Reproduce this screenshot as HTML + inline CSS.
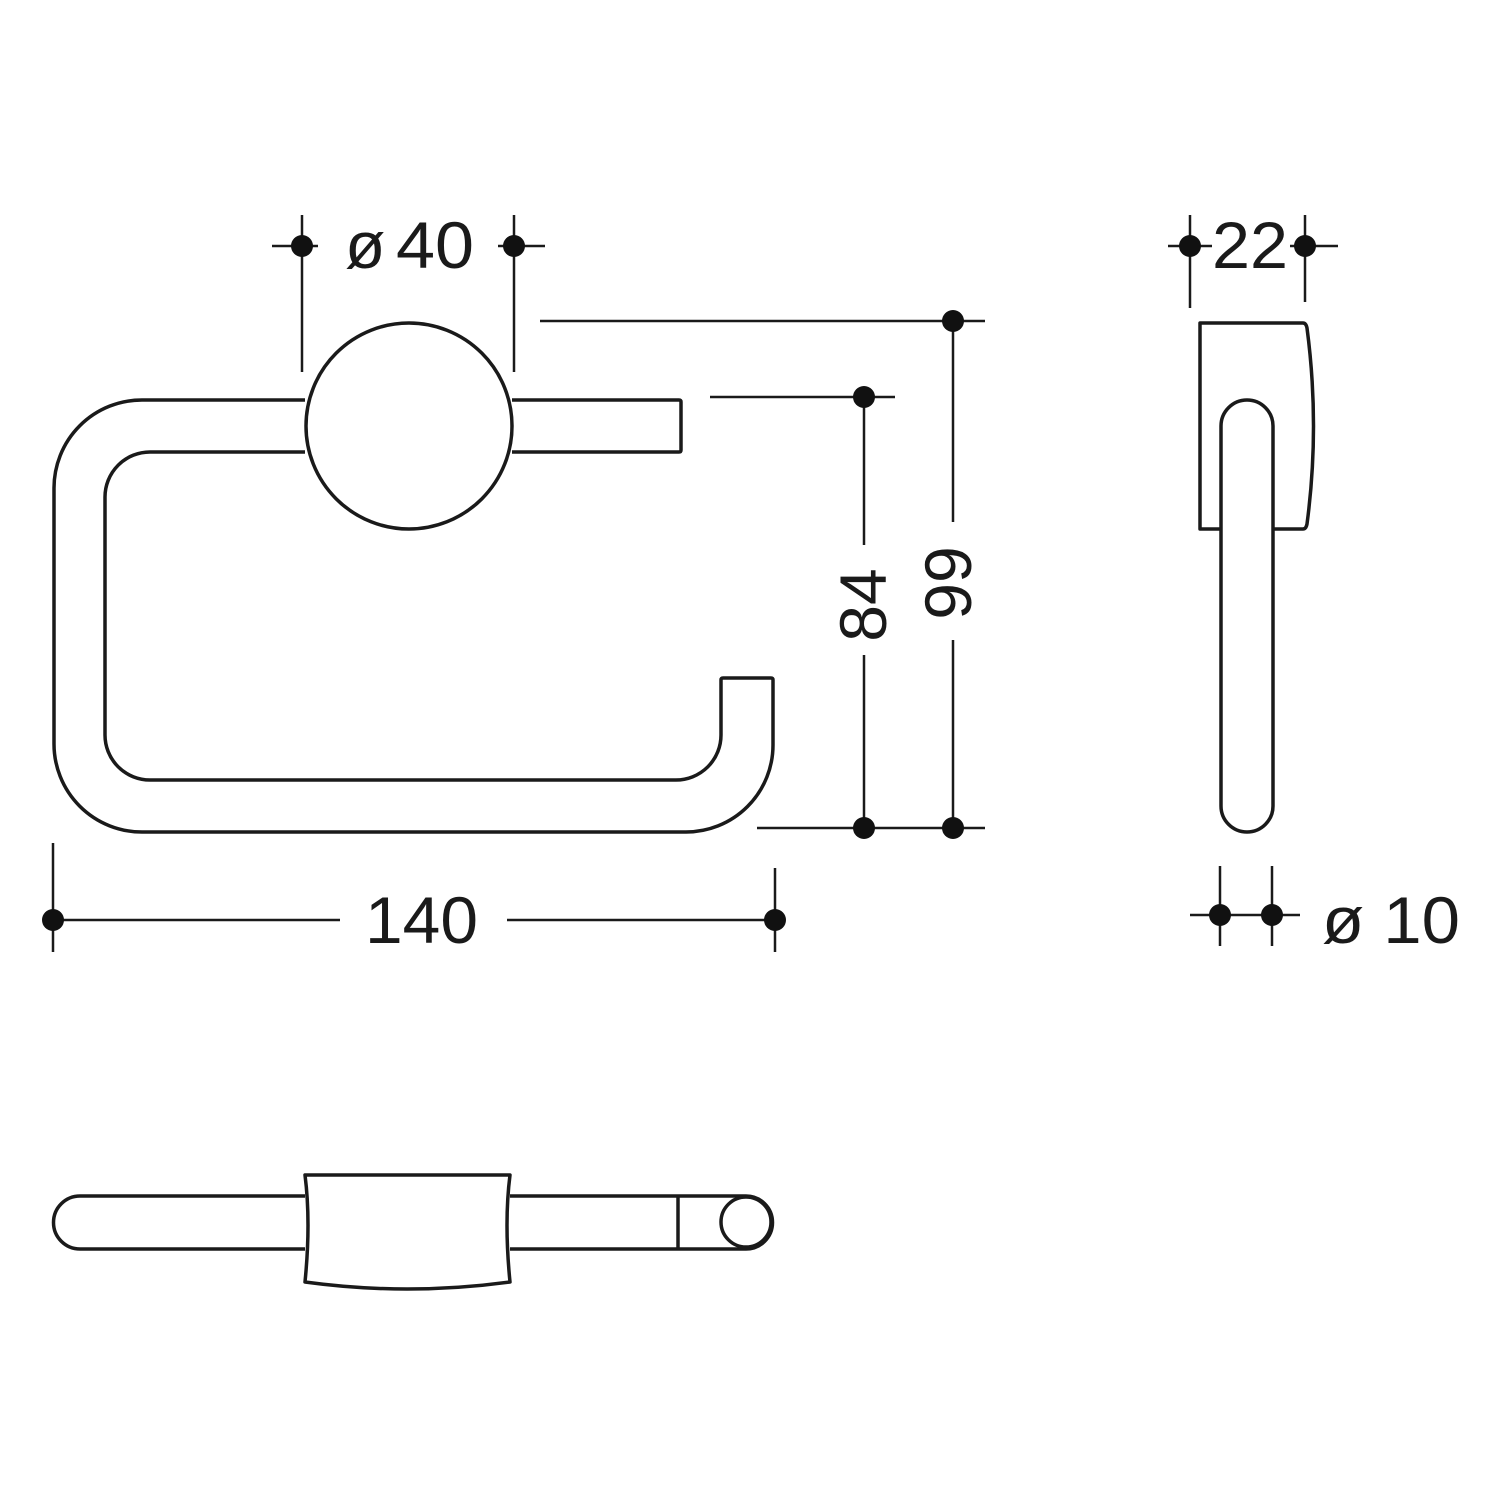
<!DOCTYPE html>
<html><head><style>html,body{margin:0;padding:0;background:#fff}svg{display:block}</style></head><body>
<svg width="1500" height="1500" viewBox="0 0 1500 1500" xmlns="http://www.w3.org/2000/svg">
<g fill="none" stroke="#1a1a1a" stroke-width="3.5" stroke-linejoin="round">
<path d="M305 400 H142 A88 88 0 0 0 54 488 V744 A88 88 0 0 0 142 832 H686 A87 87 0 0 0 773 745 V680 Q773 678 771 678 H723 Q721 678 721 680 V735 A45 45 0 0 1 676 780 H150 A45 45 0 0 1 105 735 V497 A45 45 0 0 1 150 452 H305"/>
<circle cx="409" cy="426" r="103"/>
<path d="M512 400 H679 Q681 400 681 402 V450 Q681 452 679 452 H512"/>
<path d="M1221 529 H1200 V323 H1303 Q1306 323 1307 328 Q1320 426 1307 524 Q1306 529 1303 529 H1273"/>
<path d="M1221 426 A26 26 0 0 1 1273 426 V806 A26 26 0 0 1 1221 806 Z" fill="#fff"/>
<path d="M305 1196 H80 A26.5 26.5 0 0 0 80 1249 H305"/>
<path d="M305 1175 H510 Q504 1222 510 1282 Q407 1296 305 1282 Q311 1222 305 1175 Z"/>
<path d="M510 1196 H746 A26.5 26.5 0 0 1 746 1249 H510"/>
<line x1="678" y1="1196" x2="678" y2="1249"/>
<circle cx="746" cy="1222" r="25"/>
</g>
<g stroke="#1a1a1a" stroke-width="2.5">
<line x1="302" y1="215" x2="302" y2="372"/><line x1="514" y1="215" x2="514" y2="372"/>
<line x1="272" y1="246" x2="318" y2="246"/><line x1="498" y1="246" x2="545" y2="246"/>
<line x1="540" y1="321" x2="985" y2="321"/>
<line x1="953" y1="321" x2="953" y2="522"/><line x1="953" y1="640" x2="953" y2="828"/>
<line x1="757" y1="828" x2="985" y2="828"/>
<line x1="710" y1="397" x2="895" y2="397"/>
<line x1="864" y1="397" x2="864" y2="545"/><line x1="864" y1="655" x2="864" y2="828"/>
<line x1="53" y1="920" x2="340" y2="920"/><line x1="507" y1="920" x2="775" y2="920"/>
<line x1="53" y1="843" x2="53" y2="952"/><line x1="775" y1="868" x2="775" y2="952"/>
<line x1="1190" y1="215" x2="1190" y2="308"/><line x1="1305" y1="215" x2="1305" y2="302"/>
<line x1="1168" y1="246" x2="1212" y2="246"/><line x1="1290" y1="246" x2="1338" y2="246"/>
<line x1="1220" y1="866" x2="1220" y2="946"/><line x1="1272" y1="866" x2="1272" y2="946"/>
<line x1="1190" y1="915" x2="1300" y2="915"/>
</g>
<g fill="#111">
<circle cx="302" cy="246" r="11"/><circle cx="514" cy="246" r="11"/>
<circle cx="953" cy="321" r="11"/><circle cx="953" cy="828" r="11"/>
<circle cx="864" cy="397" r="11"/><circle cx="864" cy="828" r="11"/>
<circle cx="53" cy="920" r="11"/><circle cx="775" cy="920" r="11"/>
<circle cx="1190" cy="246" r="11"/><circle cx="1305" cy="246" r="11"/>
<circle cx="1220" cy="915" r="11"/><circle cx="1272" cy="915" r="11"/>
</g>
<g font-family="Liberation Sans, sans-serif" font-size="66" fill="#1a1a1a">
<text x="345" y="268">ø</text><text x="396" y="268" textLength="78" lengthAdjust="spacingAndGlyphs">40</text>
<text x="365" y="943" textLength="113" lengthAdjust="spacingAndGlyphs">140</text>
<text x="1212" y="268" textLength="76" lengthAdjust="spacingAndGlyphs">22</text>
<text x="1322" y="943" textLength="138" lengthAdjust="spacingAndGlyphs">ø 10</text>
<text transform="translate(886 605) rotate(-90)" text-anchor="middle">84</text>
<text transform="translate(971 583) rotate(-90)" text-anchor="middle">99</text>
</g>
</svg>
</body></html>
